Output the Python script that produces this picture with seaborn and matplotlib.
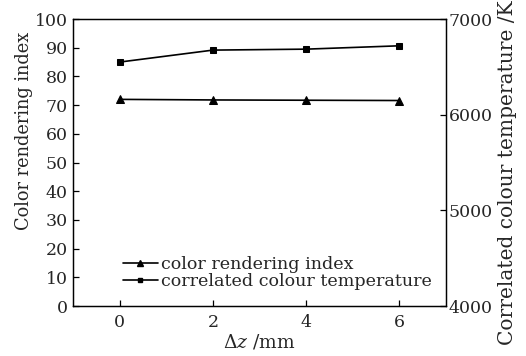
import matplotlib
matplotlib.use("Agg")
import matplotlib.pyplot as plt
import seaborn as sns
import pandas as pd
from matplotlib.lines import Line2D

# Measured values
delta_z = [0, 2, 4, 6]
cri = [72.0, 71.8, 71.7, 71.6]
cct = [6550, 6675, 6685, 6720]
x_ticks = [0, 2, 4, 6]
cri_ticks = [0, 10, 20, 30, 40, 50, 60, 70, 80, 90, 100]
cct_ticks = [4000, 5000, 6000, 7000]

sns.set_theme(style="ticks")
plt.rcParams["font.family"] = ["DejaVu Serif"]
plt.rcParams["mathtext.fontset"] = "dejavuserif"
plt.rcParams["xtick.direction"] = "in"
plt.rcParams["ytick.direction"] = "in"

df = pd.DataFrame({"dz": delta_z, "cri": cri, "cct": cct})

fig = plt.figure(figsize=(5.26, 3.56), dpi=100)
ax = fig.add_axes([0.139, 0.1404, 0.709, 0.8062])
ax2 = ax.twinx()

sns.lineplot(data=df, x="dz", y="cri", ax=ax, color="black", lw=1.2,
             marker="^", markersize=6, markeredgecolor="black")
sns.lineplot(data=df, x="dz", y="cct", ax=ax2, color="black", lw=1.2,
             marker="s", markersize=5, markeredgecolor="black")

ax.set_xlim(-1, 7)
ax.set_ylim(0, 100)
ax2.set_ylim(4000, 7000)
ax.set_xticks(x_ticks)
ax.set_yticks(cri_ticks)
ax2.set_yticks(cct_ticks)

fs = 12.5
ax.tick_params(axis="y", labelsize=fs, length=4, width=0.9, color="black",
               pad=4, right=False)
ax.tick_params(axis="x", labelsize=fs, length=4, width=0.9, color="black",
               pad=6, top=False)
ax2.tick_params(axis="y", labelsize=fs, length=4, width=0.9, color="black", pad=2)

for a in (ax, ax2):
    for s in a.spines.values():
        s.set_visible(True)
        s.set_color("black")
        s.set_linewidth(0.9)

ax.set_xlabel(r"$\Delta z$ /mm", fontsize=13.5, labelpad=1)
ax.set_ylabel("Color rendering index", fontsize=12.8)
ax2.set_ylabel("Correlated colour temperature /K", fontsize=14.5)
ax.yaxis.set_label_coords(-0.107, 0.61)
ax2.yaxis.set_label_coords(1.139, 0.463)

handles = [
    Line2D([], [], color="black", lw=1.2, marker="^", markersize=4),
    Line2D([], [], color="black", lw=1.2, marker="s", markersize=3.5),
]
ax.legend(handles, ["color rendering index", "correlated colour temperature"],
          loc="lower left", bbox_to_anchor=(0.1, 0.014), frameon=False,
          fontsize=12.6, handlelength=2.0, handletextpad=0.2, labelspacing=0.0,
          borderpad=0.2)

fig.savefig("out.png", dpi=100, facecolor="white")
